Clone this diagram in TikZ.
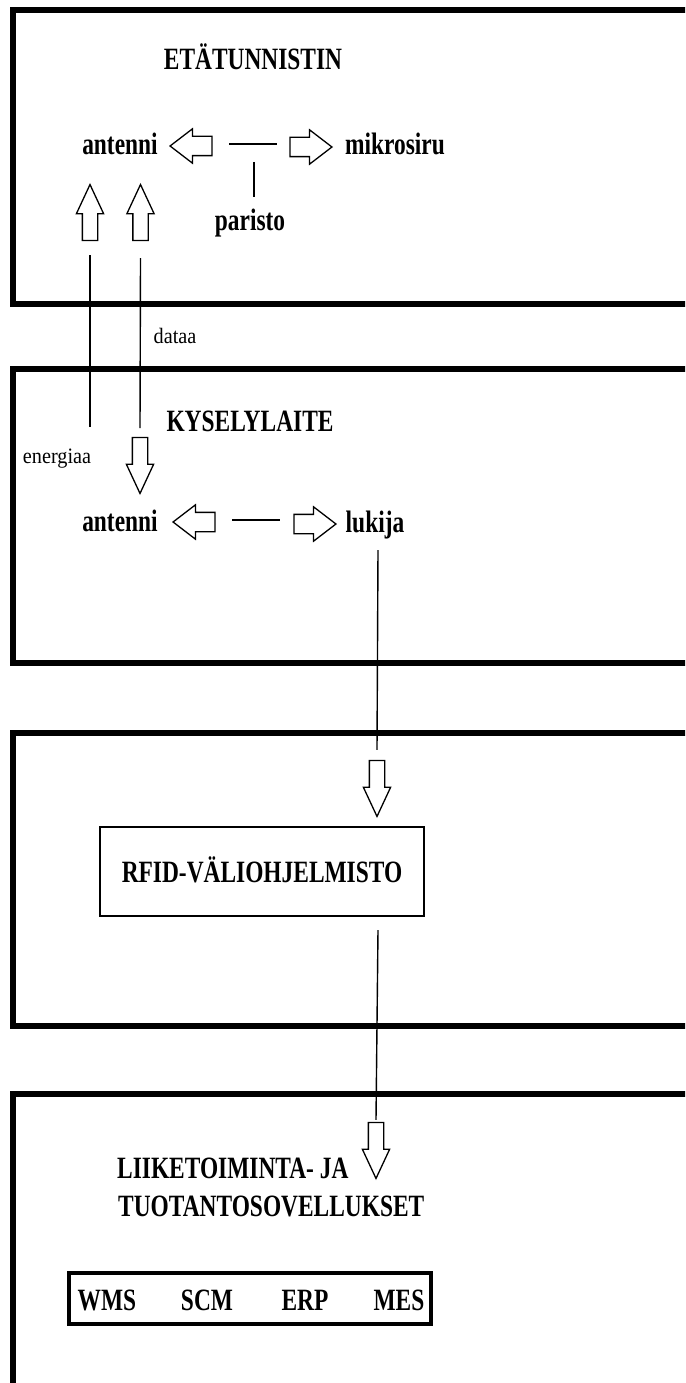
\documentclass[tikz,border=0pt]{standalone}
\usepackage{fontspec}
\setmainfont{Liberation Serif}
\newfontfamily\hdfont{Liberation Serif}[FakeStretch=0.755]
\newfontfamily\smfont{Liberation Serif}[FakeStretch=0.92]
\usetikzlibrary{shapes.arrows}
\begin{document}
\begin{tikzpicture}[x=1pt,y=-1pt,
  frame/.style={line width=5.5pt, line join=miter},
  conn/.style={line width=1.4pt},
  lbl/.style={inner sep=0pt, anchor=base, font=\hdfont\bfseries\fontsize{31}{37}\selectfont},
  small/.style={inner sep=0pt, anchor=base, font=\smfont\fontsize{22}{26}\selectfont},
  % hollow block arrows: the shaft width comes from the text height
  harrow/.style={single arrow, draw, line width=1.3pt, fill=white, inner sep=0pt,
    text width=0pt, text height=18pt, text depth=0pt,
    minimum height=42pt, single arrow head extend=7.5pt,
    single arrow tip angle=75, anchor=tip},
  varrow/.style={single arrow, draw, line width=1.3pt, fill=white, inner sep=0pt,
    text width=0pt, text height=14pt, text depth=0pt,
    minimum height=56pt, single arrow head extend=6pt,
    single arrow tip angle=50, anchor=tip}]
\useasboundingbox (0,0) rectangle (685,1383);
\clip (0,0) rectangle (685,1383);
\fill[white] (0,0) rectangle (685,1383);

% the four layer frames, open on the right
\draw[frame] (700,10) -| (13,304) -- (700,304);
\draw[frame] (700,369) -| (13,663) -- (700,663);
\draw[frame] (700,733) -| (13,1026) -- (700,1026);
\draw[frame] (700,1094) -| (13,1400);

% tag layer
\node[lbl] (tag) at (253,70) {ETÄTUNNISTIN};
\node[lbl] (ant1) at (120,155) {antenni};
\node[lbl] (chip) at (395,155) {mikrosiru};
\node[lbl] (bat) at (250,230) {paristo};
\node[harrow, rotate=180] (la1) at (169,146) {};
\node[harrow] (ra1) at (333,147) {};
\node[varrow, rotate=90] (u1) at (90,183) {};
\node[varrow, rotate=90] (u2) at (140.5,183) {};
\coordinate (tl) at (229,144);
\coordinate (tr) at (277,144);
\coordinate (tm) at (254,144);
\draw[conn] (tl) -- (tr);
\draw[conn] ([yshift=-18pt]tm) -- ([yshift=-53pt]tm);

% reader layer
\node[small] (data) at (175,343) {dataa};
\node[small] (energy) at (57,463) {energiaa};
\node[lbl] (reader) at (250,431) {KYSELYLAITE};
\node[varrow, rotate=270] (d1) at (140,495) {};
\node[lbl] (ant2) at (120,531) {antenni};
\node[lbl] (luk) at (375,532) {lukija};
\node[harrow, rotate=180] (la2) at (172,522) {};
\node[harrow] (ra2) at (337,524) {};
\coordinate (ml) at (232,520);
\coordinate (mr) at (280,520);
\draw[conn] (ml) -- (mr);
\coordinate (eb) at (90,427);
\coordinate (db) at (140,428);
\draw[conn] ([yshift=-14pt]u1.tail) -- (eb);
\draw[conn] ([yshift=-17pt]u2.tail) -- (db);

% middleware layer
\node[draw, line width=1.4pt, minimum width=324pt, minimum height=89pt,
  text height=21pt, text depth=0pt, inner sep=0pt,
  font=\hdfont\bfseries\fontsize{31}{37}\selectfont] (mw) at (262,871.5) {RFID-VÄLIOHJELMISTO};
\node[varrow, rotate=270] (d2) at (377,818) {};
\coordinate (lk) at (378,550);
\draw[conn] (lk) -- ([yshift=10pt]d2.tail);

% application layer
\node[varrow, rotate=270] (d3) at (376,1180) {};
\coordinate (mwb) at (378,930);
\draw[conn] (mwb) -- ([yshift=2pt]d3.tail);
\node[lbl, anchor=base west] (app1) at (117,1178) {LIIKETOIMINTA- JA};
\node[lbl, anchor=base west] (app2) at (118,1216) {TUOTANTOSOVELLUKSET};
\node[draw, line width=4pt, minimum width=362pt, minimum height=51pt, inner sep=0pt] (apps) at (250,1298.5) {};
\node[lbl] (wms) at (107,1310) {WMS};
\node[lbl] (scm) at (207,1310) {SCM};
\node[lbl] (erp) at (305,1310) {ERP};
\node[lbl] (mes) at (399,1310) {MES};
\end{tikzpicture}
\end{document}
